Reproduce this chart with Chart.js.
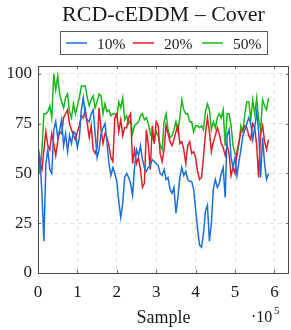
<!DOCTYPE html>
<html>
<head>
<meta charset="utf-8">
<script src="https://cdn.jsdelivr.net/npm/chart.js@4.4.1/dist/chart.umd.min.js"></script>
<style>
  html, body { margin: 0; padding: 0; background: #ffffff; }
  #wrap { width: 291px; height: 330px; position: relative; }
</style>
</head>
<body>
<div id="wrap"><canvas id="c" width="291" height="330"></canvas></div>
<script>
const titleText = "RCD-cEDDM – Cover";
const xLabel = "Sample";
const seriesNames = ["10%", "20%", "50%"];
const xTicks = [0, 100000, 200000, 300000, 400000, 500000, 600000];
const yTicks = [0, 25, 50, 75, 100];

const samples = [
  0, 5000, 10000, 15000, 20000, 25000, 30000, 35000, 40000, 45000,
  50000, 55000, 60000, 65000, 70000, 75000, 80000, 85000, 90000, 95000,
  100000, 105000, 110000, 115000, 120000, 125000, 130000, 135000, 140000, 145000,
  150000, 155000, 160000, 165000, 170000, 175000, 180000, 185000, 190000, 195000,
  200000, 205000, 210000, 215000, 220000, 225000, 230000, 235000, 240000, 245000,
  250000, 255000, 260000, 265000, 270000, 275000, 280000, 285000, 290000, 295000,
  300000, 305000, 310000, 315000, 320000, 325000, 330000, 335000, 340000, 345000,
  350000, 355000, 360000, 365000, 370000, 375000, 380000, 385000, 390000, 395000,
  400000, 405000, 410000, 415000, 420000, 425000, 430000, 435000, 440000, 445000,
  450000, 455000, 460000, 465000, 470000, 475000, 480000, 485000, 490000, 495000,
  500000, 505000, 510000, 515000, 520000, 525000, 530000, 535000, 540000, 545000,
  550000, 555000, 560000, 565000, 570000, 575000, 580000, 585000
];

const cover10 = [
  62, 58, 40, 16, 55, 62, 52, 50, 72, 76,
  68, 72, 77, 64, 70, 61, 69, 65, 71, 70,
  63, 68, 82, 88, 79, 77, 76, 80, 82, 70,
  58, 62, 70, 73, 75, 66, 55, 49, 53, 50,
  46, 36, 28, 35, 48, 50, 48, 45, 39, 53,
  62, 59, 64, 57, 53, 51, 53, 54, 57, 56,
  55, 54, 50, 49, 52, 47, 48, 42, 40, 43,
  30, 38, 48, 53, 49, 51, 47, 46, 46, 42,
  32, 22, 14, 13, 20, 31, 34, 16, 25, 42,
  47, 43, 45, 50, 53, 38, 69, 72, 58, 53,
  58, 49, 56, 62, 69, 72, 75, 78, 75, 67,
  73, 81, 71, 48, 68, 55, 47, 50
];

const cover20 = [
  64, 55, 52, 62, 71, 64, 62, 70, 65, 59,
  66, 71, 70, 78, 80, 82, 75, 72, 69, 67,
  71, 74, 79, 78, 82, 75, 68, 74, 62, 60,
  63, 83, 72, 65, 70, 68, 64, 58, 56, 78,
  80, 71, 77, 69, 73, 73, 78, 80, 55, 62,
  55, 58, 52, 43, 45, 72, 64, 52, 74, 65,
  76, 74, 60, 56, 62, 74, 70, 66, 64, 67,
  71, 74, 65, 66, 62, 55, 64, 66, 60, 61,
  58, 51, 47, 48, 58, 70, 78, 71, 61, 66,
  69, 73, 70, 65, 63, 59, 64, 60, 49, 53,
  50, 61, 66, 71, 72, 74, 73, 69, 67, 75,
  73, 64, 48, 70, 74, 66, 62, 67
];

const cover50 = [
  64, 50, 62, 80, 80, 81, 84, 78, 100, 92,
  99, 90, 86, 83, 88, 90, 81, 78, 85, 80,
  84, 88, 94, 94, 94, 88, 84, 87, 89, 83,
  86, 90, 89, 80, 85, 81, 82, 79, 80, 80,
  78, 86, 83, 88, 77, 79, 75, 77, 70, 74,
  75, 76, 79, 80, 77, 78, 75, 70, 68, 66,
  71, 69, 64, 62, 76, 80, 72, 68, 69, 72,
  76, 71, 78, 87, 82, 80, 80, 76, 76, 71,
  74, 74, 73, 74, 72, 81, 85, 82, 72, 76,
  73, 78, 80, 78, 82, 64, 80, 80, 74, 64,
  60, 59, 65, 74, 71, 80, 86, 86, 77, 87,
  80, 88, 77, 72, 87, 84, 82, 88
];

const colors = ["#1c6fd9", "#e01e26", "#19b819"];
const serif = "'Liberation Serif', 'DejaVu Serif', serif";

function toPoints(vals) {
  return samples.map((s, i) => ({ x: s, y: vals[i] }));
}

const decorPlugin = {
  id: 'decor',
  afterDraw(chart) {
    const ctx = chart.ctx;
    const a = chart.chartArea;
    const xs = chart.scales.x, ys = chart.scales.y;
    ctx.save();
    // inner tick marks
    ctx.strokeStyle = '#707070';
    ctx.lineWidth = 1;
    ctx.beginPath();
    xTicks.forEach(v => {
      const px = Math.round(xs.getPixelForValue(v)) + 0.5;
      ctx.moveTo(px, a.bottom); ctx.lineTo(px, a.bottom - 3);
      ctx.moveTo(px, a.top); ctx.lineTo(px, a.top + 3);
    });
    yTicks.forEach(v => {
      const py = Math.round(ys.getPixelForValue(v)) + 0.5;
      ctx.moveTo(a.left, py); ctx.lineTo(a.left + 3, py);
      ctx.moveTo(a.right, py); ctx.lineTo(a.right - 3, py);
    });
    ctx.stroke();
    // axis box
    ctx.strokeStyle = '#4a4a4a';
    ctx.lineWidth = 1;
    ctx.strokeRect(Math.round(a.left) + 0.5, Math.round(a.top) + 0.5,
                   Math.round(a.right - a.left) - 1, Math.round(a.bottom - a.top));
    // title
    ctx.fillStyle = '#1a1a1a';
    ctx.font = "22px " + serif;
    ctx.textAlign = 'center';
    ctx.textBaseline = 'alphabetic';
    ctx.fillText(titleText, (a.left + a.right) / 2, 21);
    // legend
    ctx.strokeStyle = '#5a5a5a';
    ctx.lineWidth = 1;
    ctx.strokeRect(60.5, 31.5, 207, 23);
    ctx.font = "15.5px " + serif;
    ctx.textAlign = 'left';
    const lineStarts = [66, 133, 202];
    chart.data.datasets.forEach((ds, i) => {
      const x0 = lineStarts[i];
      ctx.strokeStyle = ds.borderColor;
      ctx.lineWidth = 1.5;
      ctx.beginPath();
      ctx.moveTo(x0, 43); ctx.lineTo(x0 + 21, 43);
      ctx.stroke();
      ctx.fillStyle = '#1a1a1a';
      ctx.fillText(ds.label, x0 + 31, 48.5);
    });
    // x-axis label and multiplier
    ctx.font = "18px " + serif;
    ctx.textAlign = 'center';
    ctx.fillText(xLabel, (a.left + a.right) / 2, 323);
    ctx.textAlign = 'left';
    ctx.font = "16px " + serif;
    ctx.fillText("·10", 251, 322);
    ctx.font = "11px " + serif;
    ctx.fillText("5", 274, 314);
    ctx.restore();
  }
};

new Chart(document.getElementById('c'), {
  type: 'line',
  data: {
    datasets: [
      { label: seriesNames[0], data: toPoints(cover10), borderColor: colors[0], backgroundColor: colors[0] },
      { label: seriesNames[1], data: toPoints(cover20), borderColor: colors[1], backgroundColor: colors[1] },
      { label: seriesNames[2], data: toPoints(cover50), borderColor: colors[2], backgroundColor: colors[2] }
    ]
  },
  options: {
    responsive: false,
    animation: false,
    devicePixelRatio: 1,
    layout: { padding: { top: 66, right: 2, left: 0, bottom: 0 } },
    elements: {
      point: { radius: 0 },
      line: { borderWidth: 1.5, tension: 0 }
    },
    plugins: {
      legend: { display: false },
      title: { display: false },
      tooltip: { enabled: false }
    },
    scales: {
      x: {
        type: 'linear',
        min: 0,
        max: 637000,
        afterFit(scale) { scale.height = 57; },
        afterBuildTicks(scale) { scale.ticks = xTicks.map(v => ({ value: v })); },
        ticks: {
          includeBounds: false,
          padding: 9,
          color: '#1a1a1a',
          font: { family: serif, size: 17 },
          maxRotation: 0,
          callback: v => String(v / 100000)
        },
        grid: { color: '#e0e0e0', drawTicks: false },
        border: { display: false, dash: [4, 4] }
      },
      y: {
        min: 0,
        max: 104,
        afterFit(scale) { scale.width = 38; },
        afterBuildTicks(scale) { scale.ticks = yTicks.map(v => ({ value: v })); },
        ticks: {
          includeBounds: false,
          padding: 6,
          color: '#1a1a1a',
          font: { family: serif, size: 17 }
        },
        grid: { color: '#e0e0e0', drawTicks: false },
        border: { display: false, dash: [4, 4] }
      }
    }
  },
  plugins: [decorPlugin]
});
</script>
</body>
</html>
